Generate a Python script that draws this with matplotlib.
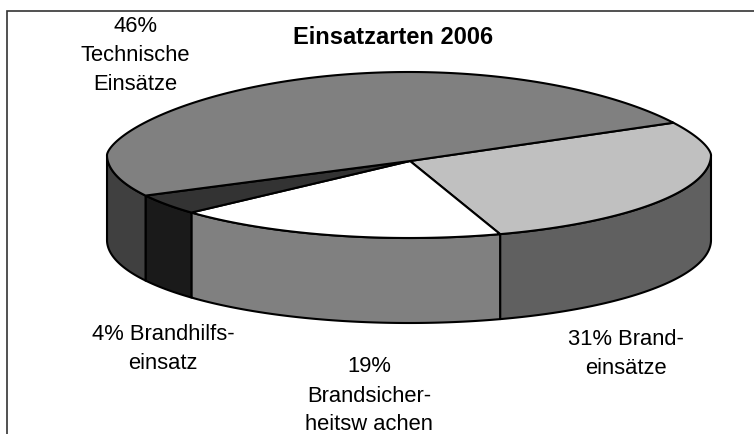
import numpy as np
import matplotlib
matplotlib.use("Agg")
import matplotlib.pyplot as plt
from matplotlib.patches import Polygon, Rectangle

plt.rcParams['font.family'] = ['Liberation Sans', 'DejaVu Sans']

title = "Einsatzarten 2006"
# order: clockwise starting at the back right edge
names = ["31% Brand-\neinsätze", "19%\nBrandsicher-\nheitsw achen", "4% Brandhilfs-\neinsatz", "46%\nTechnische\nEinsätze"]
values = [31, 19, 4, 46]
top_colors = ["#c0c0c0", "#ffffff", "#333333", "#808080"]
side_colors = ["#606060", "#808080", "#1a1a1a", "#404040"]
label_pos = [(626, 354), (369, 396), (163, 349), (135, 55.5)]

# the pie in pixels
cx, cy, rx, ry = 409, 155, 302, 83
apex = (410, 161)
depth = 85


def warp(c):
    # c = cumulative angle in degrees, warped a bit for the 3d perspective
    return np.radians(-c + 36.4 + 7.5 * np.cos(np.radians(-c + 180)))


def rim(c):
    t = warp(c)
    s = np.sin(t)
    # back of the pie is flatter than the front
    s = np.where(s > 0, np.abs(s) ** 1.3, s)
    return cx + rx * np.cos(t), cy - ry * s


fig = plt.figure(figsize=(7.54, 4.34), dpi=100)
ax = fig.add_axes([0, 0, 1, 1])
ax.set_xlim(0, 754)
ax.set_ylim(434, 0)
ax.axis("off")

ax.add_patch(Rectangle((7, 11), 800, 500, fc="white", ec="#333333", lw=1.2, zorder=0))

bounds = np.cumsum([0] + values)
angles = bounds / sum(values) * 360

# side wall, only the front half can be seen
for i in range(len(values)):
    c = np.linspace(angles[i], angles[i + 1], 300)
    keep = np.sin(warp(c)) <= 0
    if keep.sum() < 2:
        continue
    x, y = rim(c[keep])
    pts = np.column_stack([np.r_[x, x[::-1]], np.r_[y, y[::-1] + depth]])
    ax.add_patch(Polygon(pts, fc=side_colors[i], ec="black", lw=1.5, joinstyle="round", zorder=2))

# top slices
for i in range(len(values)):
    c = np.linspace(angles[i], angles[i + 1], 300)
    x, y = rim(c)
    pts = np.column_stack([np.r_[apex[0], x], np.r_[apex[1], y]])
    ax.add_patch(Polygon(pts, fc=top_colors[i], ec="black", lw=1.5, joinstyle="round", zorder=3))

ax.text(393, 38, title, ha="center", va="center", fontsize=17, fontweight="bold", zorder=5)
for name, (lx, ly) in zip(names, label_pos):
    ax.text(lx, ly, name, ha="center", va="center", fontsize=15.8, linespacing=1.5, zorder=5)

fig.savefig("out.png", dpi=100)
